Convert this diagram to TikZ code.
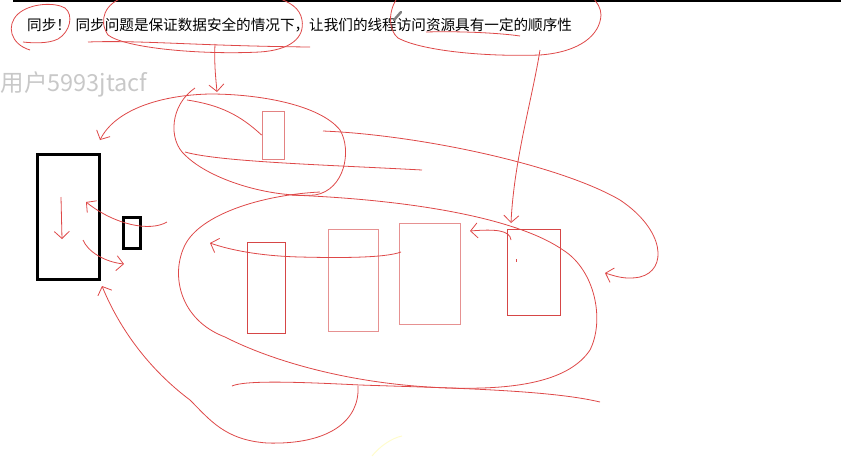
\documentclass[tikz,border=0pt]{standalone}
\usepackage{fontspec}
\usepackage{xcolor}
\usepackage{tikz}
\usetikzlibrary{arrows.meta, positioning}
\newfontfamily\cjk{Noto Sans CJK SC}

\definecolor{inkred}{RGB}{222,72,72}
\definecolor{boxred}{RGB}{214,70,70}
\definecolor{boxpink}{RGB}{230,145,145}
\definecolor{wmgray}{RGB}{200,200,200}

\begin{document}
\begin{tikzpicture}[
      x=1pt, y=-1pt,
      blkbox/.style={
          draw=black,
          line width=3pt,
          inner sep=0pt
      },
      redbox/.style={
          draw=boxred,
          line width=0.9pt,
          inner sep=0pt
      },
      ink/.style={draw=inkred, line width=0.8pt},
      inkarrow/.style={ink, -{Straight Barb[length=7pt, width=15pt]}},
      title/.style={font=\cjk\fontsize{14.6}{16}\selectfont, inner sep=0pt, anchor=west}
  ]

  \useasboundingbox (0,0) rectangle (841,456);

  % ══════════════════════════════
  % EN-TÊTE : texte + filigrane
  % ══════════════════════════════
  \draw[black, line width=2pt] (13,1) -- (841,1);

  \node[title] (tsync) at (27,25) {同步！};
  \node[title, right=4.2pt of tsync] (tmain)
      {同步问题是保证数据安全的情况下，让我们的线程访问资源具有一定的顺序性};

  \node[font=\cjk\fontsize{23.5}{26}\selectfont, text=wmgray, inner sep=0pt,
        anchor=west] (wmark) at (0.5,84) {用户5993jtacf};

  \draw[gray, line width=2.5pt, line cap=round] (394,20) -- (401,12);

  % ══════════════════════════════
  % BOÎTES
  % ══════════════════════════════
  \node[blkbox, minimum width=62pt, minimum height=125pt] (bigblk) at (68,216.5) {};
  \node[blkbox, minimum width=17pt, minimum height=31pt] (smallblk) at (131.5,232.5) {};

  \node[redbox, draw=boxpink!80!boxred, minimum width=22pt, minimum height=48pt]
      (topred) at (273,135) {};

  \node[redbox, minimum width=38pt, minimum height=91pt] (qa) at (266,287.5) {};
  \node[redbox, draw=boxpink, minimum width=50pt, minimum height=102pt] (qb) at (353,280) {};
  \node[redbox, draw=boxpink, minimum width=61pt, minimum height=101pt] (qc) at (429.5,273.5) {};
  \node[redbox, minimum width=53pt, minimum height=86pt] (qd) at (533.5,272) {};

  % ══════════════════════════════
  % TRAITS — en-tête
  % ══════════════════════════════
  \draw[ink] (30,50) .. controls (10,44) and (6,25) .. (18,14)
      .. controls (30,3) and (55,2) .. (65,8)
      .. controls (74,15) and (70,32) .. (58,39)
      .. controls (48,44) and (32,43) .. (23,42);

  \draw[ink] (125,-3) .. controls (105,3) and (98,20) .. (108,35)
      .. controls (125,48) and (200,55) .. (260,52)
      .. controls (290,50) and (305,38) .. (302,20)
      .. controls (300,8) and (290,2) .. (275,-3);
  \draw[ink] (88,42) .. controls (140,40) and (200,46) .. (310,47);

  \draw[ink] (398,-3) .. controls (388,10) and (388,30) .. (398,38)
      .. controls (420,50) and (480,57) .. (540,55)
      .. controls (580,52) and (600,35) .. (601,15)
      .. controls (601,8) and (597,2) .. (592,-3);
  \draw[ink] (426,32) .. controls (460,31) and (500,33) .. (520,36);

  \coordinate (hdA) at (215,44);
  \coordinate (hdB) at (540,50);
  \coordinate (topin) at (217,92);
  \coordinate (qdin) at (511,223);

  \draw[inkarrow] (hdA) .. controls (214,65) and (216,80) .. (topin);
  \draw[inkarrow] (hdB) .. controls (532,100) and (514,160) .. (qdin);

  % ══════════════════════════════
  % TRAITS — boucle du haut
  % ══════════════════════════════
  \coordinate (leftup) at (100,140);
  \draw[inkarrow] (195,88) .. controls (170,105) and (168,140) .. (185,155)
      .. controls (210,180) and (270,198) .. (315,195)
      .. controls (345,190) and (352,150) .. (340,130)
      .. controls (320,105) and (260,94) .. (210,94)
      .. controls (160,95) and (115,110) .. (leftup);

  \draw[ink] (187,100) .. controls (220,105) and (240,115) .. (topred.west);

  \coordinate (qdright) at (605,273);
  \draw[inkarrow] (323,131) .. controls (420,135) and (560,165) .. (620,200)
      .. controls (665,230) and (668,270) .. (640,277)
      .. controls (625,280) and (615,276) .. (qdright);

  \draw[ink] (185,152) .. controls (220,162) and (330,165) .. (422,170);

  % ══════════════════════════════
  % TRAITS — boucle du bas
  % ══════════════════════════════
  \draw[ink] (320,192) .. controls (260,195) and (200,215) .. (185,245)
      .. controls (170,275) and (180,320) .. (225,337)
      .. controls (270,360) and (350,385) .. (450,388)
      .. controls (520,390) and (570,380) .. (590,350)
      .. controls (605,320) and (595,270) .. (563,250)
      .. controls (520,220) and (420,200) .. (290,195);

  \coordinate (qaleft) at (210,243);
  \draw[inkarrow] (401,252) .. controls (385,258) and (340,258) .. (300,257)
      .. controls (260,256) and (230,250) .. (qaleft);

  \coordinate (qcright) at (470,231);
  \draw[inkarrow] (511,240) .. controls (510,230) and (495,229) .. (qcright);
  \draw[ink] (516,259) -- (516,262);

  \draw[ink] (232,386) .. controls (245,380) and (300,382) .. (360,385)
      .. controls (450,388) and (550,390) .. (600,402);

  \coordinate (blkbottom) at (102,286);
  \draw[inkarrow] (358,386) .. controls (360,420) and (330,445) .. (267,443)
      .. controls (225,440) and (210,420) .. (190,400)
      .. controls (150,370) and (120,330) .. (blkbottom);

  % ══════════════════════════════
  % TRAITS — boîtes noires
  % ══════════════════════════════
  \coordinate (inA) at (61,197);
  \coordinate (inB) at (62,239);
  \draw[inkarrow] (inA) -- (inB);

  \coordinate (blkright) at (86,202);
  \draw[inkarrow] (167,222) .. controls (150,232) and (115,225) .. (blkright);

  \coordinate (blkout) at (83,240);
  \coordinate (blkaway) at (124,264);
  \draw[inkarrow] (blkout) .. controls (88,252) and (105,262) .. (blkaway);

  \draw[yellow!20, line width=1pt] (372,456) .. controls (380,446) and (392,438) .. (402,436);

  \end{tikzpicture}
\end{document}
